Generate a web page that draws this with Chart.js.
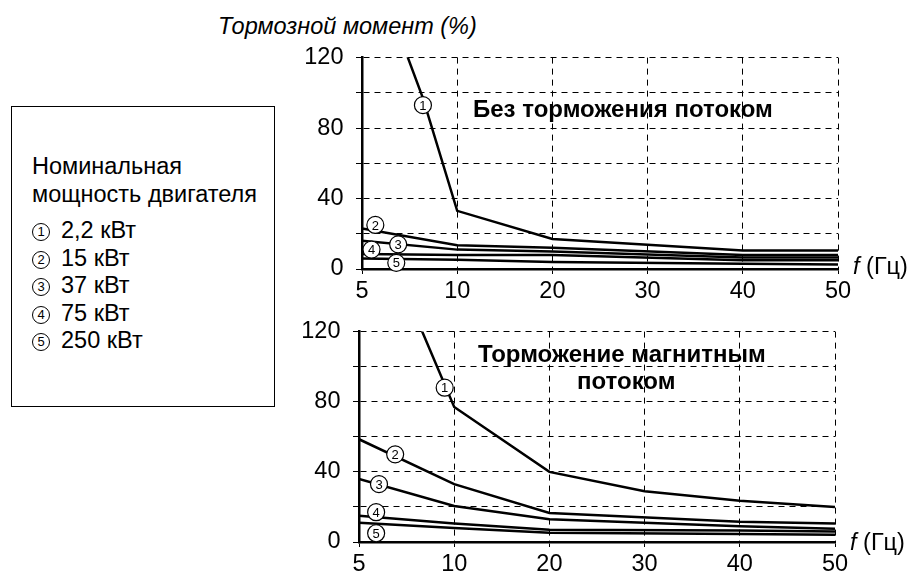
<!DOCTYPE html>
<html lang="ru">
<head>
    <meta charset="UTF-8">
    <title>Тормозной момент</title>
    <style>
        body { margin: 0; width: 911px; height: 576px; position: relative; background: #fff;
               font-family: "Liberation Sans", Arial, sans-serif; color: #000; overflow: hidden; }
        .txt { position: absolute; white-space: nowrap; line-height: 1; font-size: 23.5px; }
        .bold { font-weight: bold; font-size: 24px; }
        .box { position: absolute; width: 620px; }
        .num { display: inline-block; width: 16px; height: 16px; border: 1px solid #000; border-radius: 50%;
               font-size: 13px; line-height: 16px; text-align: center; vertical-align: 2px; margin-right: 11px; }
        #legendBox { position: absolute; left: 11px; top: 106px; width: 262px; height: 299px; border: 1.5px solid #000; }
    </style>
</head>
<body>
    <div class="txt" style="left:218px; top:15px; font-style:italic;">Тормозной момент (%)</div>

    <div id="legendBox"></div>
    <div class="txt" style="left:32px; top:155px;">Номинальная</div>
    <div class="txt" style="left:32px; top:183px;">мощность двигателя</div>
    <div id="legendItems"></div>

    <div class="box" style="left:290px; top:31px; height:276px;"><canvas id="topChart"></canvas></div>
    <div class="box" style="left:287px; top:305px; height:275px;"><canvas id="bottomChart"></canvas></div>

    <div class="txt bold" style="left:473px; top:97px;">Без торможения потоком</div>
    <div class="txt bold" style="left:478px; top:342px;">Торможение магнитным</div>
    <div class="txt bold" style="left:577px; top:369px;">потоком</div>

    <div class="txt" style="left:853px; top:255px;"><i>f</i> (Гц)</div>
    <div class="txt" style="left:850px; top:531px;"><i>f</i> (Гц)</div>

    <script src="https://cdn.jsdelivr.net/npm/chart.js"></script>
    <script>
        // x axis: frequency (Hz), ticks equally spaced
        const freqLabels = [5, 10, 20, 30, 40, 50];
        const yLabels = [0, 40, 80, 120];
        const motorPower = ['2,2 кВт', '15 кВт', '37 кВт', '75 кВт', '250 кВт'];

        // Без торможения потоком
        const topF1 = [5, 8.2, 10, 20, 40, 50];
        const topT1 = [190, 97, 33, 17, 10.5, 10.5];
        const topF = [5, 10, 20, 40, 50];
        const topT2 = [23, 13.5, 12, 8, 8];
        const topT3 = [16, 11, 10, 6.5, 6.5];
        const topT4 = [8.5, 8, 8, 5, 5];
        const topT5 = [6, 5.2, 4, 3, 2.5];
        const topMarkF = [8.2, 5.7, 6.9, 5.5, 6.8];
        const topMarkT = [93, 25, 14, 11, 3.5];

        // Торможение магнитным потоком
        const botF1 = [5, 10, 20, 30, 40, 50];
        const botT1 = [205, 77, 40, 29, 23.5, 20];
        const botF = [5, 10, 20, 40, 50];
        const botT2 = [58.6, 33, 16.5, 11.5, 10.5];
        const botT3 = [36, 20.5, 13, 9, 7.5];
        const botT4 = [15, 10.5, 7, 6.5, 6];
        const botT5 = [11, 8, 5.3, 4.5, 4.2];
        const botMarkF = [9.5, 6.9, 6.05, 5.9, 5.9];
        const botMarkT = [88, 50, 33, 17, 5];

        // legend entries
        let legendHtml = '';
        for (let i = 0; i < motorPower.length; i++) {
            legendHtml += '<div class="txt" style="left:32px; top:' + (219 + i * 27.5) + 'px;">'
                + '<span class="num">' + (i + 1) + '</span>' + motorPower[i] + '</div>';
        }
        document.getElementById('legendItems').innerHTML = legendHtml;

        // 5..10 takes the same width as 10..20
        function fToIdx(f) {
            return f <= 10 ? (f - 5) / 5 : 1 + (f - 10) / 10;
        }

        function toPoints(fs, ts) {
            return fs.map((f, i) => ({ x: fToIdx(f), y: ts[i] }));
        }

        const circleLabels = {
            id: 'circleLabels',
            afterDatasetsDraw(chart, args, opts) {
                const ctx = chart.ctx;
                const x = chart.scales.x, y = chart.scales.y;
                for (let i = 0; i < opts.fs.length; i++) {
                    const px = x.getPixelForValue(fToIdx(opts.fs[i]));
                    const py = y.getPixelForValue(opts.ts[i]);
                    ctx.save();
                    ctx.beginPath();
                    ctx.arc(px, py, 8.5, 0, Math.PI * 2);
                    ctx.fillStyle = '#fff';
                    ctx.fill();
                    ctx.lineWidth = 1.2;
                    ctx.strokeStyle = '#000';
                    ctx.stroke();
                    ctx.fillStyle = '#000';
                    ctx.font = '13px "Liberation Sans", Arial';
                    ctx.textAlign = 'center';
                    ctx.textBaseline = 'middle';
                    ctx.fillText(String(i + 1), px, py + 1);
                    ctx.restore();
                }
            }
        };

        Chart.defaults.font.family = '"Liberation Sans", Arial, sans-serif';
        Chart.defaults.font.size = 23.5;
        Chart.defaults.color = '#000';

        function makeChart(id, series, markF, markT) {
            let datasets = series.map(s => ({
                data: toPoints(s[0], s[1]),
                borderColor: '#000',
                borderWidth: 2.5,
                pointRadius: 0,
                tension: 0,
                fill: false,
            }));

            return new Chart(document.getElementById(id), {
                type: 'line',
                data: { datasets: datasets },
                plugins: [circleLabels],
                options: {
                    responsive: true,
                    maintainAspectRatio: false,
                    animation: false,
                    layout: { padding: { top: 0, right: 72, left: 0, bottom: 0 } },
                    plugins: {
                        legend: { display: false },
                        tooltip: { enabled: false },
                        circleLabels: { fs: markF, ts: markT },
                    },
                    scales: {
                        x: {
                            type: 'linear',
                            min: 0,
                            max: 5,
                            afterFit: s => { s.height = 38; },
                            ticks: { stepSize: 1, padding: 3, callback: v => freqLabels[v] },
                            grid: { color: '#000', lineWidth: 1, tickLength: 5, tickBorderDash: [6, 5] },
                            border: { display: true, color: '#000', width: 2.5, dash: [6, 5] },
                        },
                        y: {
                            min: 0,
                            max: 120,
                            afterFit: s => { s.width = 72; },
                            ticks: { stepSize: 20, padding: 12.5, callback: v => yLabels.includes(v) ? v : '' },
                            grid: { color: '#000', lineWidth: 1, tickLength: 6, tickBorderDash: [6, 5] },
                            border: { display: true, color: '#000', width: 2.5, dash: [6, 5] },
                        }
                    }
                }
            });
        }

        makeChart('topChart', [
            [topF1, topT1], [topF, topT2], [topF, topT3], [topF, topT4], [topF, topT5]
        ], topMarkF, topMarkT);

        makeChart('bottomChart', [
            [botF1, botT1], [botF, botT2], [botF, botT3], [botF, botT4], [botF, botT5]
        ], botMarkF, botMarkT);
    </script>
</body>
</html>
